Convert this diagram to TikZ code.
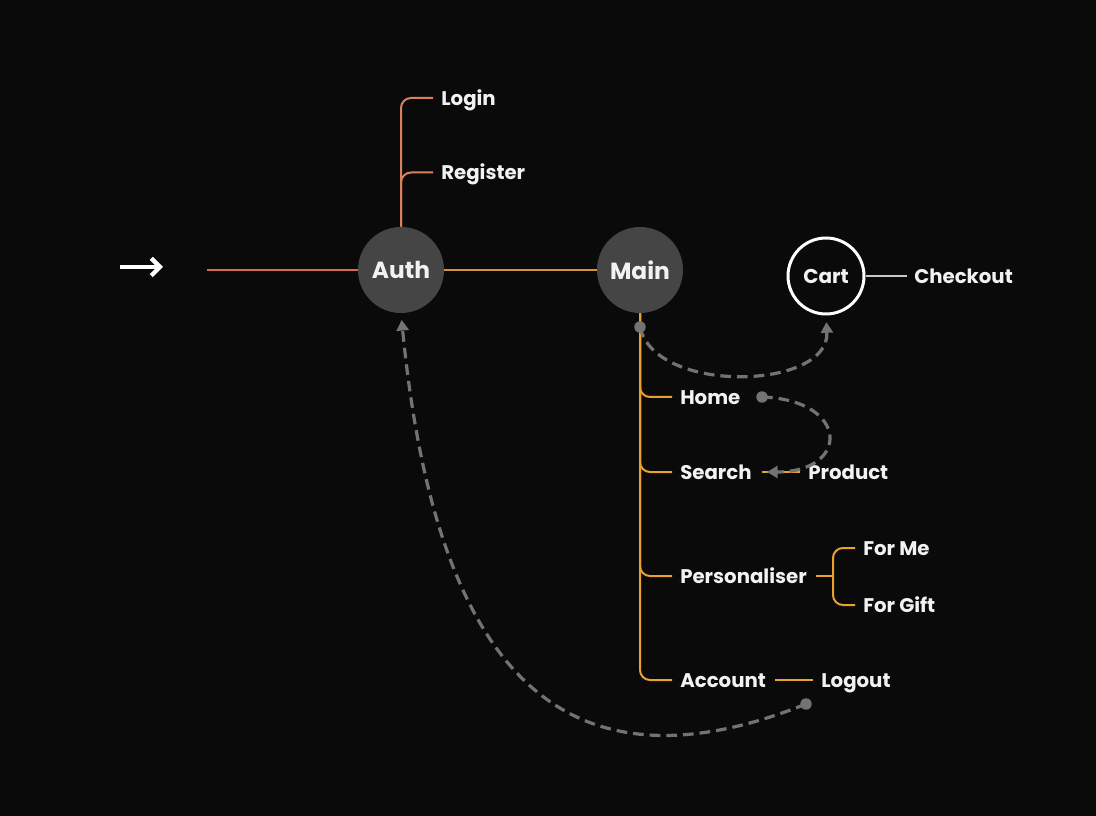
\documentclass[tikz,border=0pt]{standalone}
\usepackage{fontspec}
\setmainfont{Poppins}
\usetikzlibrary{arrows.meta,calc}
\definecolor{bg}{HTML}{0A0A0A}
\definecolor{txt}{HTML}{F2F2F2}
\definecolor{hubgray}{HTML}{454545}
\definecolor{authc}{HTML}{D9805C}
\definecolor{entryc}{HTML}{D46A50}
\definecolor{midc}{HTML}{D8913C}
\definecolor{mainc}{HTML}{EAA22E}
\definecolor{dashc}{HTML}{737373}
\definecolor{cartc}{HTML}{C8C8C8}
\begin{document}
\begin{tikzpicture}[x=0.75pt,y=-0.75pt,
  lbl/.style={anchor=west, inner sep=0pt, text height=10.9pt, text depth=0pt,
    font=\fontsize{14.8}{18}\selectfont\bfseries, text=txt},
  hub/.style={circle, fill=hubgray, minimum size=64.5pt, inner sep=0pt,
    font=\fontsize{17.5}{21}\selectfont\bfseries, text=txt},
  cartnode/.style={circle, draw=white, line width=2.25pt, fill=bg, minimum size=57pt, inner sep=0pt,
    font=\fontsize{15}{18}\selectfont\bfseries, text=txt},
  authln/.style={draw=authc, line width=1.5pt, rounded corners=7.5pt},
  mainln/.style={draw=mainc, line width=1.5pt, rounded corners=7.5pt},
  dashln/.style={draw=dashc, line width=2.4pt, dash pattern=on 8pt off 4.5pt,
    -{Triangle[width=9pt,length=8pt]}, shorten >=5pt},
  dotstyle/.style={fill=dashc}
]
\fill[bg] (0,0) rectangle (1096,816);
\useasboundingbox (0,0) rectangle (1096,816);

% entry arrow
\coordinate (ea) at (120,267);
\coordinate (eb) at (163,267);
\draw[white, line width=3.3pt, -{Straight Barb[length=6.5pt,width=13pt]}] (ea) -- (eb);
\coordinate (start) at (207,270);

% hubs
\node[hub] (auth) at (401,270) {Auth};
\node[hub] (main) at (640,270) {Main};
\node[cartnode] (cart) at (826,276) {Cart};

% labels
\node[lbl] (login) at (441,98) {Login};
\node[lbl] (register) at (441,172.5) {Register};
\node[lbl] (home) at (680,397) {Home};
\node[lbl] (search) at (680,472) {Search};
\node[lbl] (pers) at (680,576) {Personaliser};
\node[lbl] (account) at (680,680) {Account};
\node[lbl] (product) at (808,472) {Product};
\node[lbl] (logout) at (821,680) {Logout};
\node[lbl] (forme) at (863,548) {For Me};
\node[lbl] (forgift) at (863,605) {For Gift};
\node[lbl] (checkout) at (914,276) {Checkout};

% solid connectors
\draw[draw=entryc, line width=1.5pt] (start) -- (auth.west);
\draw[draw=midc, line width=1.5pt] (auth.east) -- (main.west);
\draw[authln] (auth.north) |- ($(login.west)+(-8,0)$);
\draw[authln] (auth.north) |- ($(register.west)+(-8,0)$);
\draw[mainln] (main.south) |- ($(home.west)+(-8,0)$);
\draw[mainln] (main.south) |- ($(search.west)+(-8,0)$);
\draw[mainln] (main.south) |- ($(pers.west)+(-8,0)$);
\draw[mainln] (main.south) |- ($(account.west)+(-8,0)$);
\draw[mainln] ($(search.east)+(10,0)$) -- ($(product.west)+(-8,0)$);
\coordinate (br) at (833,576);
\draw[mainln] ($(pers.east)+(9,0)$) -- (br);
\draw[mainln] (br) |- ($(forme.west)+(-8,0)$);
\draw[mainln] (br) |- ($(forgift.west)+(-8,0)$);
\draw[mainln] ($(account.east)+(9,0)$) -- ($(logout.west)+(-8,0)$);
\draw[draw=cartc, line width=1.5pt] (cart.east) -- ($(checkout.west)+(-7,0)$);

% dashed connectors
\coordinate (mdot) at (640,327);
\coordinate (hdot) at (762,397);
\coordinate (ldot) at (806,704);
\coordinate (ptip) at (767,472);
\draw[dashln] (mdot) .. controls (655,395) and (830,390) .. (cart.south);
\draw[dashln, shorten >=0pt] (hdot) .. controls (850,400) and (850,472) .. (ptip);
\draw[dashln] (ldot) .. controls (556,804) and (435,662) .. (auth.south);
\fill[dotstyle] (mdot) circle[radius=4.3pt];
\fill[dotstyle] (hdot) circle[radius=4.3pt];
\fill[dotstyle] (ldot) circle[radius=4.3pt];
\end{tikzpicture}
\end{document}
